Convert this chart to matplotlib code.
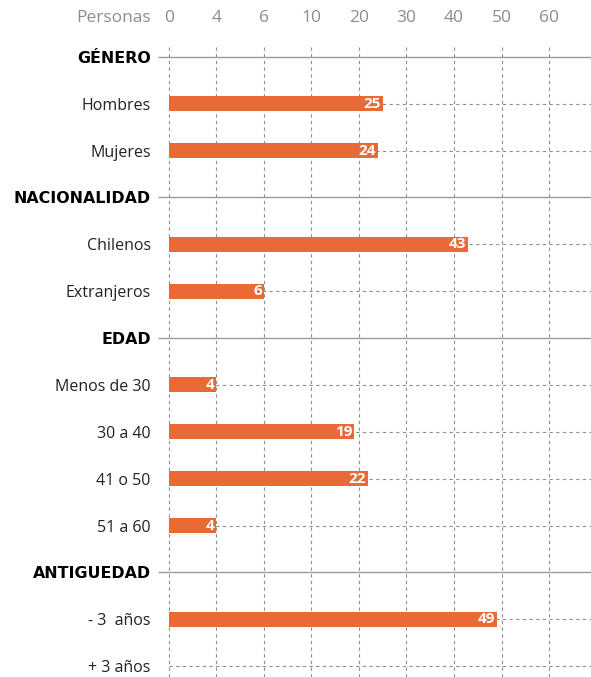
import numpy as np
import matplotlib
matplotlib.use('Agg')
import matplotlib.pyplot as plt

plt.rcParams['font.family'] = ['Open Sans', 'DejaVu Sans']

# data
sections = ['GÉNERO', 'NACIONALIDAD', 'EDAD', 'ANTIGUEDAD']
genero_labels = ['Hombres', 'Mujeres']
genero_vals = [25, 24]
nacion_labels = ['Chilenos', 'Extranjeros']
nacion_vals = [43, 6]
edad_labels = ['Menos de 30', '30 a 40', '41 o 50', '51 a 60']
edad_vals = [4, 19, 22, 4]
antig_labels = ['- 3  años', '+ 3 años']
antig_vals = [49, 0]
tick_vals = [0, 4, 6, 10, 20, 30, 40, 50, 60]

groups = [(genero_labels, genero_vals), (nacion_labels, nacion_vals),
          (edad_labels, edad_vals), (antig_labels, antig_vals)]

# piecewise scale: every tick equally spaced
sc_vals = np.array([-10] + tick_vals + [70], dtype=float)
sc_idx = np.arange(-1, len(tick_vals) + 1, dtype=float)

def fwd(x):
    return np.interp(x, sc_vals, sc_idx)

def inv(x):
    return np.interp(x, sc_idx, sc_vals)

bar_color = '#E86A37'
grid_color = '#8f8f8f'
dash = (0, (3, 3))
top_pad = 14

fig = plt.figure(figsize=(5.91, 6.77), dpi=100)
ax = fig.add_axes([0.267, 0.0, 0.733, 0.9335])
ax.set_xscale('function', functions=(fwd, inv))

rows = []  # (label, value or None)
for name, (labs, vals) in zip(sections, groups):
    rows.append((name, None))
    for l, v in zip(labs, vals):
        rows.append((l, v))

n = len(rows)
ypos = np.arange(n)
xmin, xmax = inv(-0.23), inv(8.88)

for y, (lab, v) in zip(ypos, rows):
    if v is None:
        ax.hlines(y, xmin, xmax, color='#9a9a9a', lw=1.0, zorder=1)
    else:
        ax.hlines(y, 0, xmax, color=grid_color, lw=0.8, linestyle=dash, zorder=1)
        if v > 0:
            ax.barh(y, v, height=0.32, color=bar_color, zorder=3)
            ax.annotate(str(v), (v, y), xytext=(-1.5, 0), textcoords='offset points',
                        ha='right', va='center', color='white', fontsize=11,
                        fontweight='bold', zorder=4)

ax.set_xlim(xmin, xmax)
ax.set_ylim(n - 1 + 0.23, -0.25)

ax.set_xticks(tick_vals)
ax.set_xticklabels([str(t) for t in tick_vals])
ax.xaxis.tick_top()
ax.tick_params(axis='x', length=0, pad=top_pad, labelsize=12.5, labelcolor='#8c8c8c')
ax.grid(axis='x', color=grid_color, lw=0.8, linestyle=dash, zorder=0)
ax.set_axisbelow(True)

ax.set_yticks(ypos)
ax.set_yticklabels([r[0] for r in rows])
ax.tick_params(axis='y', length=0, pad=5, labelsize=11.5, labelcolor='#222222')
for tl, (lab, v) in zip(ax.get_yticklabels(), rows):
    if v is None:
        tl.set_fontfamily('DejaVu Sans')
        tl.set_fontweight('bold')
        tl.set_fontsize(11.4)
        tl.set_color('black')

for s in ax.spines.values():
    s.set_visible(False)

ax.annotate('Personas', (0, 1), xycoords='axes fraction', xytext=(-5, top_pad),
            textcoords='offset points', ha='right', va='bottom',
            fontsize=12.5, color='#8c8c8c')

fig.savefig('out.png', dpi=100)
